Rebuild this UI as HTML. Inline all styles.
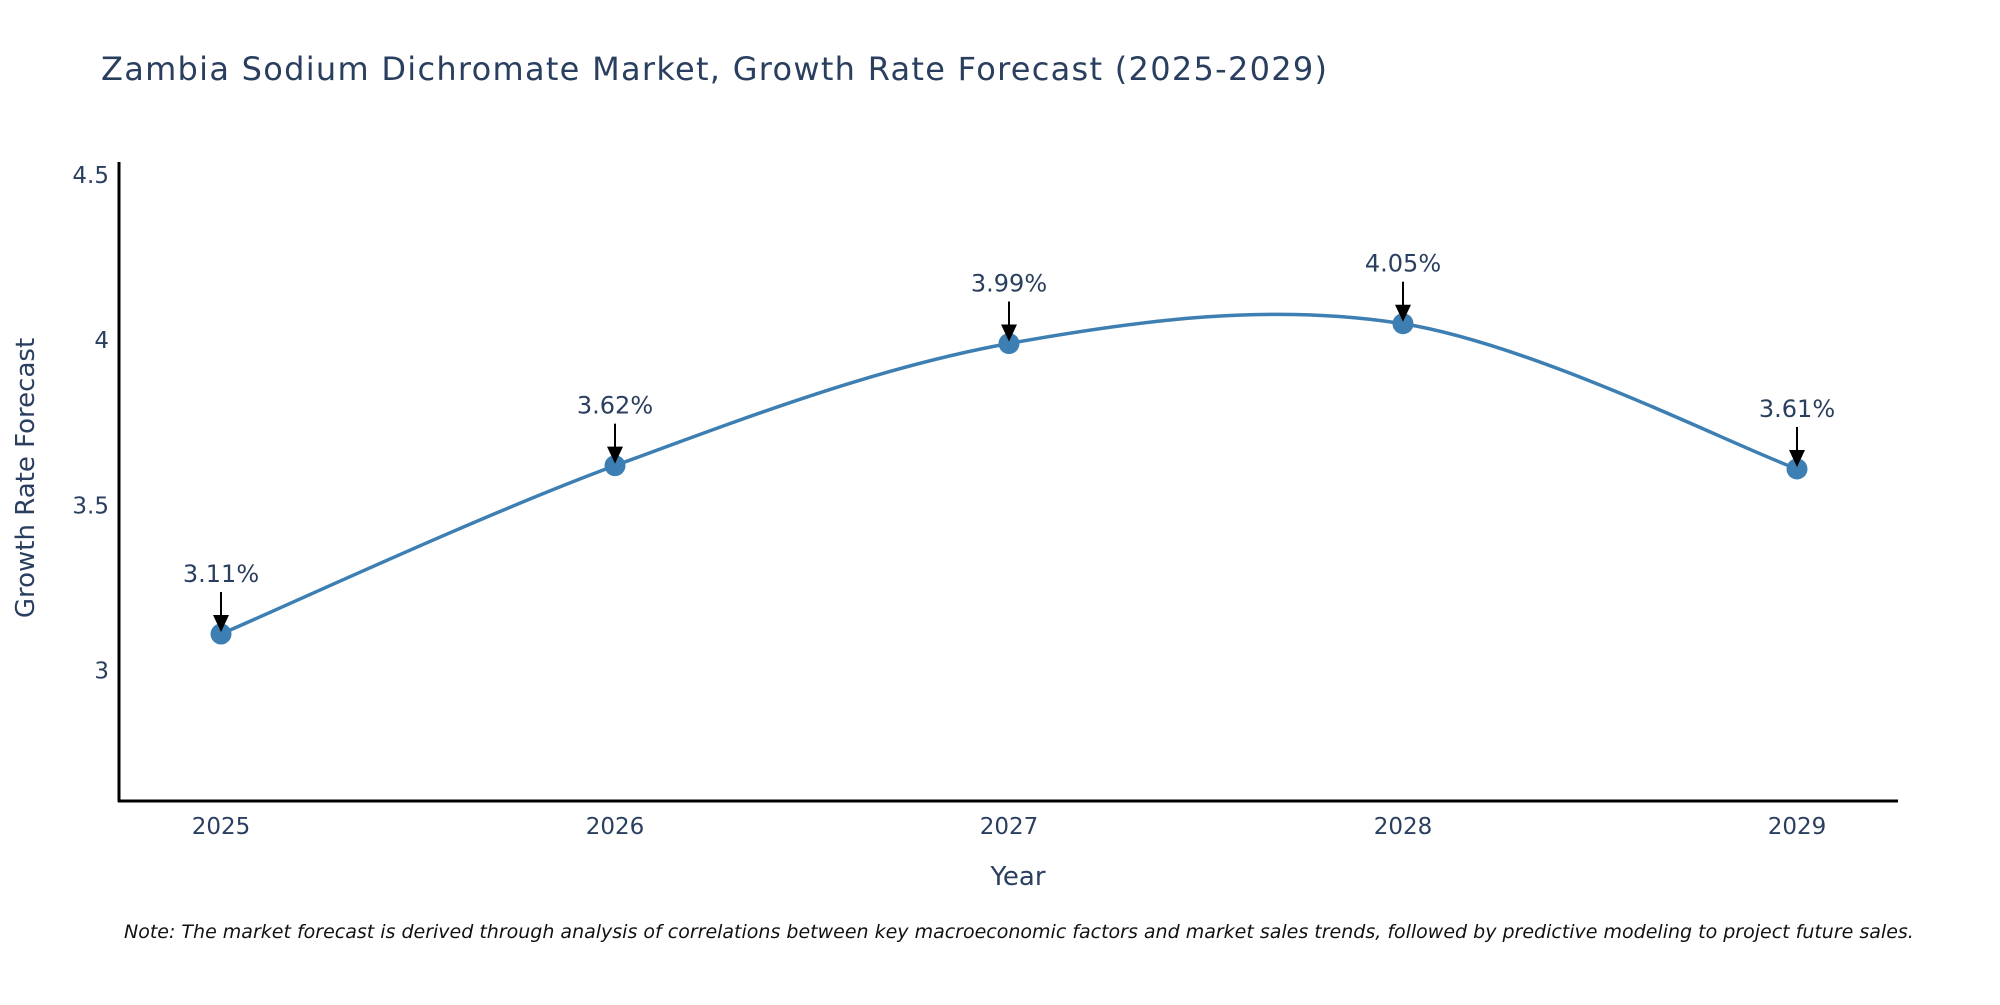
<!DOCTYPE html>
<html><head><meta charset="utf-8"><style>
body{margin:0;background:#fff;}
svg text{font-family:"DejaVu Sans","Liberation Sans",sans-serif;}
</style></head><body>
<svg id="chart" width="2000" height="1000" viewBox="0 0 2000 1000" xmlns="http://www.w3.org/2000/svg">
<rect width="2000" height="1000" fill="#fff"/>
<text x="101" y="80" font-size="32" fill="#2a3f5f" textLength="1226">Zambia Sodium Dichromate Market, Growth Rate Forecast (2025-2029)</text>
<g id="axes"></g>
<g id="series"></g>
<text x="1018" y="885" font-size="26" fill="#2a3f5f" text-anchor="middle">Year</text>
<text transform="translate(34,478) rotate(-90)" font-size="26" fill="#2a3f5f" text-anchor="middle">Growth Rate Forecast</text>
<text x="124" y="938" font-size="19" font-style="italic" fill="#111">Note: The market forecast is derived through analysis of correlations between key macroeconomic factors and market sales trends, followed by predictive modeling to project future sales.</text>
</svg>
<script>
const years = [2025, 2026, 2027, 2028, 2029];
const values = [3.11, 3.62, 3.99, 4.05, 3.61];
const yTicks = [3, 3.5, 4, 4.5];
const NS = "http://www.w3.org/2000/svg";
const plotL = 119, plotR = 1898, plotT = 162, plotB = 801;
const yMin = 2.604, yMax = 4.54;
function xs(yr){ return 221 + (yr - 2025) * 394; }
function ys(v){ return plotB - (v - yMin) / (yMax - yMin) * (plotB - plotT); }
function mk(tag, attrs, parent){ const e = document.createElementNS(NS, tag); for (const k in attrs) e.setAttribute(k, attrs[k]); parent.appendChild(e); return e; }
const axes = document.getElementById('axes');
const series = document.getElementById('series');
const yl = mk('line', {x1:plotL, y1:plotT, x2:plotL, y2:plotB+1, stroke:'#000', 'stroke-width':3}, axes);


const xl = mk('line', {x1:plotL-1, y1:plotB, x2:plotR, y2:plotB, stroke:'#000', 'stroke-width':3}, axes);


yTicks.forEach(t => {
  const tx = mk('text', {x:plotL-10, y:ys(t)+8, 'font-size':23, fill:'#2a3f5f', 'text-anchor':'end'}, axes);
  tx.textContent = String(t);
  
  
});
years.forEach(yr => {
  const tx = mk('text', {x:xs(yr), y:834, 'font-size':23, fill:'#2a3f5f', 'text-anchor':'middle'}, axes);
  tx.textContent = String(yr);
  
  
});
const pts = years.map((yr, i) => [xs(yr), ys(values[i])]);
let d = 'M' + pts[0][0] + ',' + pts[0][1];
const s = 1/6;
for (let i = 0; i < pts.length - 1; i++) {
  const p0 = pts[Math.max(i-1,0)], p1 = pts[i], p2 = pts[i+1], p3 = pts[Math.min(i+2, pts.length-1)];
  const c1 = [p1[0] + (p2[0]-p0[0])*s, p1[1] + (p2[1]-p0[1])*s];
  const c2 = [p2[0] - (p3[0]-p1[0])*s, p2[1] - (p3[1]-p1[1])*s];
  d += ' C' + c1 + ' ' + c2 + ' ' + p2;
}
const path = mk('path', {d:d, fill:'none', stroke:'#3d7fb2', 'stroke-width':3.5}, series);


pts.forEach((p, i) => {
  const c = mk('circle', {cx:p[0], cy:p[1], r:10.5, fill:'#3d7fb2'}, series);
  
  
  const a = mk('line', {x1:p[0], y1:p[1]-42, x2:p[0], y2:p[1]-16, stroke:'#000', 'stroke-width':2}, series);
  
  
  const h = mk('polygon', {points:(p[0]-8)+','+(p[1]-19)+' '+(p[0]+8)+','+(p[1]-19)+' '+p[0]+','+(p[1]-2), fill:'#000'}, series);
  
  
  const t = mk('text', {x:p[0], y:p[1]-52, 'font-size':24, fill:'#2a3f5f', 'text-anchor':'middle'}, series);
  t.textContent = values[i].toFixed(2) + '%';
  
  
});
</script>
</body></html>
